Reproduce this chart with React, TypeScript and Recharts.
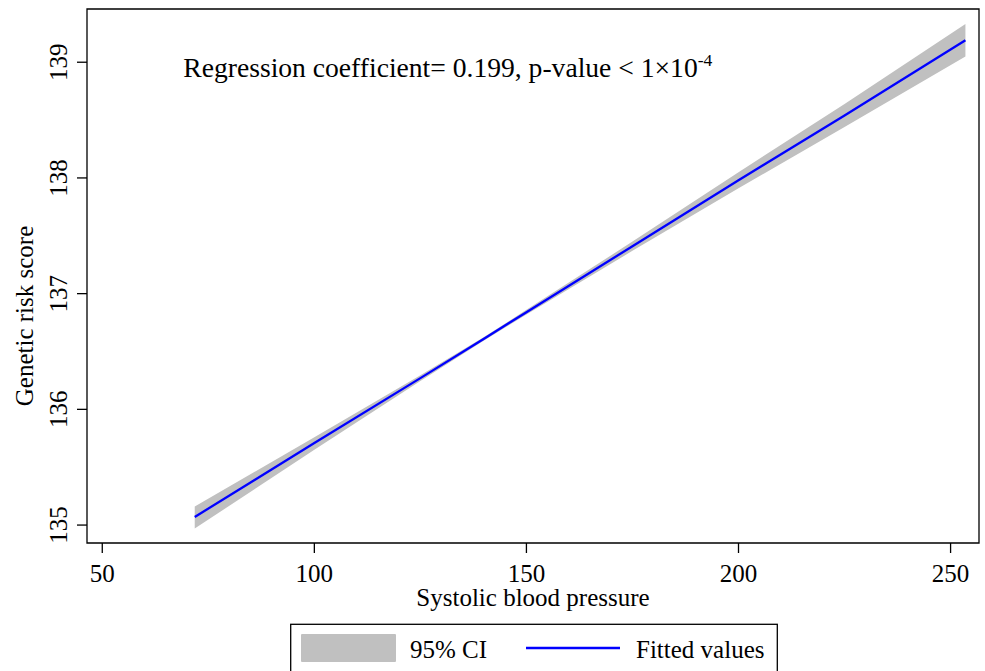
import {
  ComposedChart,
  Area,
  Line,
  XAxis,
  YAxis,
  ReferenceArea,
  Label,
} from "recharts";

// systolic blood pressure (x) and the fitted regression with its 95% CI
const bpValues = [71.8, 100, 125, 140, 150, 175, 200, 225, 253.5];
const fittedValues = [135.07, 135.71, 136.27, 136.61, 136.84, 137.41, 137.98, 138.54, 139.19];
const ciLower = [134.97, 135.65, 136.245, 136.595, 136.82, 137.37, 137.91, 138.44, 139.05];
const ciUpper = [135.16, 135.76, 136.295, 136.625, 136.86, 137.45, 138.05, 138.64, 139.33];

const xTicks = [50, 100, 150, 200, 250];
const yTicks = [135, 136, 137, 138, 139];
const xDomain: [number, number] = [46.4, 256.7];
const yDomain: [number, number] = [134.845, 139.46];

const serif = "'Liberation Serif', 'Times New Roman', serif";

const data = bpValues.map((bp, i) => ({
  bp,
  fitted: fittedValues[i],
  ci: [ciLower[i], ciUpper[i]],
}));

const XTick = ({ x, y, payload }: any) => (
  <text x={x} y={y} dy={26.5} textAnchor="middle" fontSize={25} fontFamily={serif} fill="#000">
    {payload.value}
  </text>
);

const YTick = ({ x, y, payload }: any) => (
  <text
    transform={`translate(${x - 8.3},${y}) rotate(-90)`}
    textAnchor="middle"
    fontSize={25}
    fontFamily={serif}
    fill="#000"
  >
    {payload.value}
  </text>
);

export default function App() {
  return (
    <div style={{ position: "absolute", left: 0, top: 0, width: 985, height: 671, background: "#fff" }}>
      <ComposedChart
        width={985}
        height={671}
        data={data}
        margin={{ top: 9, right: 6, bottom: 0, left: 0 }}
      >
        <XAxis
          dataKey="bp"
          type="number"
          domain={xDomain}
          ticks={xTicks}
          allowDataOverflow
          axisLine={false}
          tickLine={{ stroke: "#000", strokeWidth: 1.3 }}
          tickSize={10}
          height={128}
          tick={<XTick />}
        >
          <Label
            content={() => (
              <text x={533} y={606} textAnchor="middle" fontSize={25} fontFamily={serif} fill="#000">
                Systolic blood pressure
              </text>
            )}
          />
        </XAxis>
        <YAxis
          type="number"
          domain={yDomain}
          ticks={yTicks}
          allowDataOverflow
          axisLine={false}
          tickLine={{ stroke: "#000", strokeWidth: 1.3 }}
          tickSize={10}
          width={87}
          tick={<YTick />}
        >
          <Label
            content={() => (
              <text
                transform="translate(33,316) rotate(-90)"
                textAnchor="middle"
                fontSize={25}
                fontFamily={serif}
                fill="#000"
              >
                Genetic risk score
              </text>
            )}
          />
        </YAxis>
        <Area
          dataKey="ci"
          type="linear"
          stroke="none"
          fill="#c0c0c0"
          fillOpacity={1}
          isAnimationActive={false}
          activeDot={false}
        />
        <Line
          dataKey="fitted"
          type="linear"
          stroke="#0000ff"
          strokeWidth={2.3}
          dot={false}
          activeDot={false}
          isAnimationActive={false}
        />
        <ReferenceArea
          x1={xDomain[0]}
          x2={xDomain[1]}
          y1={yDomain[0]}
          y2={yDomain[1]}
          fill="none"
          fillOpacity={0}
          stroke="#000"
          strokeWidth={1.3}
        />
      </ComposedChart>
      <svg
        width={985}
        height={671}
        style={{ position: "absolute", left: 0, top: 0, pointerEvents: "none" }}
      >
        <text x={183.3} y={76.7} fontSize={27.6} fontFamily={serif} fill="#000">
          Regression coefficient= 0.199, p-value {"<"} 1×10
          <tspan fontSize={17.5} dy={-11}>-4</tspan>
        </text>
        <rect x={290.7} y={624.3} width={486.6} height={60} fill="#fff" stroke="#000" strokeWidth={1.3} />
        <rect x={301} y={634} width={95} height={28} rx={1} fill="#c0c0c0" />
        <text x={410} y={658} fontSize={25} fontFamily={serif} fill="#000">95% CI</text>
        <line x1={526} y1={648} x2={620} y2={648} stroke="#0000ff" strokeWidth={2.5} />
        <text x={636} y={658} fontSize={25} fontFamily={serif} fill="#000">Fitted values</text>
      </svg>
    </div>
  );
}
